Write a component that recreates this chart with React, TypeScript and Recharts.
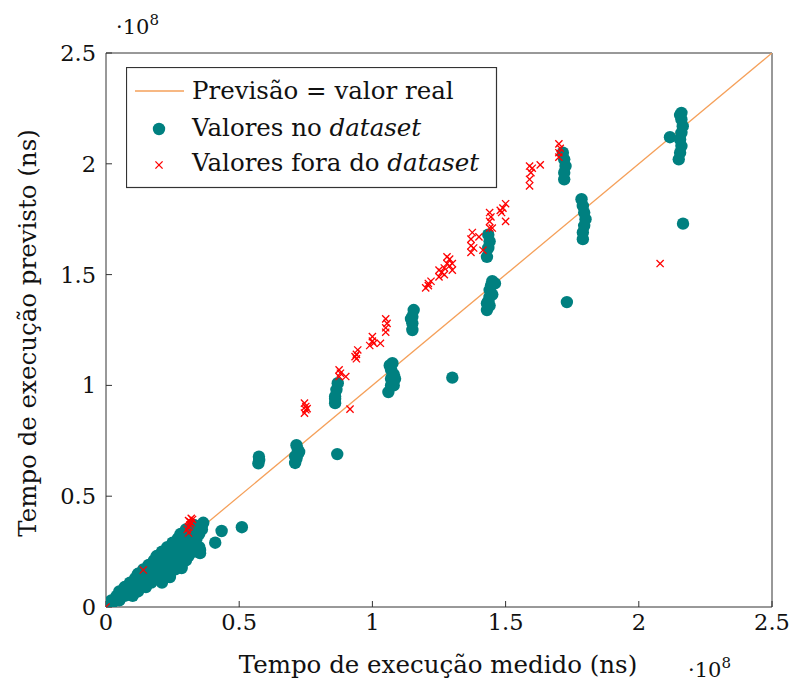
import React from 'react';
import { ScatterChart, Scatter, XAxis, YAxis, Legend } from 'recharts';

// Values are in units of 10^8 ns.
const AXIS_TICKS = [0, 0.5, 1, 1.5, 2, 2.5];
const AXIS_DOMAIN: [number, number] = [0, 2.5];

// Reference line: prediction equals real value.
const IDEAL_X = [0, 2.5];
const IDEAL_Y = [0, 2.5];

// Samples inside the dataset.
const IN_X = [
  0.0, 0.02, 0.02, 0.05, 0.04, 0.07, 0.1, 0.05, 0.09, 0.12, 0.07, 0.11, 0.15,
  0.09, 0.13, 0.17, 0.21, 0.11, 0.15, 0.19, 0.22, 0.12, 0.16, 0.2, 0.24,
  0.14, 0.18, 0.22, 0.26, 0.16, 0.2, 0.24, 0.28, 0.18, 0.22, 0.26, 0.3,
  0.19, 0.23, 0.27, 0.31, 0.21, 0.25, 0.29, 0.33, 0.23, 0.27, 0.31, 0.35,
  0.25, 0.29, 0.33, 0.27, 0.3, 0.34, 0.28, 0.32, 0.35, 0.3, 0.33, 0.36, 0.33, 0.36,
  0.215, 0.24, 0.284, 0.31, 0.353, 0.353, 0.41, 0.434, 0.51, 0.365,
  0.572, 0.575, 0.574,
  0.71, 0.715, 0.72, 0.72, 0.715, 0.725, 0.71,
  0.868,
  0.86, 0.86, 0.865, 0.87, 0.86,
  1.06, 1.07, 1.07, 1.08, 1.07, 1.065, 1.075, 1.08, 1.085,
  1.3,
  1.15, 1.15, 1.15, 1.155, 1.145,
  1.43, 1.43, 1.44, 1.44, 1.445, 1.45, 1.46, 1.435, 1.45, 1.44,
  1.43, 1.435, 1.44, 1.435,
  1.73,
  1.72, 1.72, 1.725, 1.72, 1.715,
  1.79, 1.79, 1.795, 1.8, 1.795, 1.79, 1.785,
  2.15, 2.155, 2.16, 2.155, 2.16, 2.165, 2.16, 2.155, 2.16, 2.117,
  2.166,
];
const IN_Y = [
  0.01, 0.01, 0.03, 0.03, 0.05, 0.05, 0.05, 0.07, 0.07, 0.07, 0.09, 0.09, 0.09,
  0.11, 0.11, 0.11, 0.11, 0.13, 0.13, 0.13, 0.13, 0.15, 0.15, 0.15, 0.15,
  0.17, 0.17, 0.17, 0.17, 0.19, 0.19, 0.19, 0.19, 0.21, 0.21, 0.21, 0.21,
  0.23, 0.23, 0.23, 0.23, 0.25, 0.25, 0.25, 0.25, 0.27, 0.27, 0.27, 0.27,
  0.29, 0.29, 0.29, 0.31, 0.31, 0.31, 0.33, 0.33, 0.33, 0.35, 0.35, 0.35, 0.37, 0.37,
  0.144, 0.135, 0.176, 0.24, 0.243, 0.257, 0.29, 0.343, 0.36, 0.38,
  0.648, 0.663, 0.678,
  0.65, 0.67, 0.69, 0.71, 0.73, 0.7, 0.68,
  0.69,
  0.92, 0.95, 0.98, 1.01, 0.94,
  0.97, 1.0, 1.03, 1.05, 1.07, 1.09, 1.1, 1.0, 1.03,
  1.035,
  1.25, 1.28, 1.31, 1.34, 1.3,
  1.34, 1.37, 1.4, 1.43, 1.45, 1.47, 1.46, 1.38, 1.41, 1.36,
  1.58, 1.62, 1.65, 1.68,
  1.376,
  1.93, 1.96, 1.99, 2.02, 2.05,
  1.66, 1.69, 1.72, 1.75, 1.78, 1.81, 1.84,
  2.02, 2.05, 2.08, 2.11, 2.14, 2.17, 2.2, 2.22, 2.23, 2.12,
  1.73,
];

// Samples outside the dataset.
const OUT_X = [
  0.0, 0.14, 0.31, 0.305, 0.31, 0.315, 0.32, 0.31, 0.32, 0.325, 0.315,
  0.745, 0.75, 0.75, 0.745, 0.755,
  0.916,
  0.875, 0.88, 0.875, 0.9,
  0.94, 0.94, 0.945, 0.935,
  0.99, 1.0, 1.0, 1.005, 1.03,
  1.05, 1.05, 1.055, 1.05,
  1.2, 1.21, 1.22, 1.21,
  1.25, 1.26, 1.27, 1.28, 1.29, 1.3, 1.27, 1.29, 1.25, 1.28, 1.3,
  1.37, 1.37, 1.37, 1.375, 1.4, 1.415, 1.38,
  1.44, 1.44, 1.445, 1.44, 1.45,
  1.485, 1.49, 1.5, 1.5, 1.48,
  1.59, 1.59, 1.595, 1.59, 1.63, 1.6,
  1.7, 1.7, 1.705, 1.7,
  2.08,
];
const OUT_Y = [
  0.0, 0.167, 0.334, 0.35, 0.36, 0.37, 0.38, 0.39, 0.4, 0.395, 0.385,
  0.875, 0.89, 0.905, 0.92, 0.895,
  0.893,
  1.04, 1.055, 1.07, 1.04,
  1.12, 1.14, 1.16, 1.13,
  1.18, 1.2, 1.22, 1.19, 1.19,
  1.24, 1.26, 1.28, 1.3,
  1.44, 1.46, 1.47, 1.45,
  1.49, 1.51, 1.53, 1.55, 1.57, 1.52, 1.5, 1.54, 1.52, 1.58, 1.55,
  1.6, 1.63, 1.66, 1.69, 1.67, 1.61, 1.62,
  1.71, 1.74, 1.76, 1.78, 1.71,
  1.78, 1.8, 1.82, 1.74, 1.79,
  1.9, 1.93, 1.96, 1.99, 1.995, 1.98,
  2.03, 2.05, 2.07, 2.09,
  1.55,
];

const toPoints = (xs: number[], ys: number[]) => xs.map((x, i) => ({ x, y: ys[i] }));
const idealData = toPoints(IDEAL_X, IDEAL_Y);
const inData = toPoints(IN_X, IN_Y);
const outData = toPoints(OUT_X, OUT_Y);

const FONT = '"DejaVu Serif", serif';
const TEAL = '#008080';
const RED = '#ff0000';
const ORANGE = '#f5a05a';
const AXIS = '#333333';
const INK = '#111111';
const DOT_R = 6.2;

const Dot = (props: any) => {
  const { cx, cy } = props;
  if (cx == null || cy == null) return null;
  return <circle cx={cx} cy={cy} r={DOT_R} fill={TEAL} />;
};

const Cross = (props: any) => {
  const { cx, cy } = props;
  if (cx == null || cy == null) return null;
  const s = 3.6;
  return (
    <g stroke={RED} strokeWidth={1.3}>
      <line x1={cx - s} y1={cy - s} x2={cx + s} y2={cy + s} />
      <line x1={cx - s} y1={cy + s} x2={cx + s} y2={cy - s} />
    </g>
  );
};

const NoShape = () => null;

const LEGEND_SIZE = 24.5;

const LegendBox = () => (
  <svg width={372} height={122} style={{ display: 'block' }}>
    <rect x={0.5} y={0.5} width={370} height={120} fill="#fff" stroke={AXIS} strokeWidth={1.2} />
    <line x1={9} y1={24} x2={58} y2={24} stroke={ORANGE} strokeWidth={1.3} />
    <text x={66} y={32} style={{ fontFamily: FONT }} fontSize={LEGEND_SIZE} fill={INK}>
      Previsão = valor real
    </text>
    <circle cx={33} cy={62} r={DOT_R} fill={TEAL} />
    <text x={66} y={68.5} style={{ fontFamily: FONT }} fontSize={LEGEND_SIZE} fill={INK}>
      Valores no <tspan fontStyle="italic">dataset</tspan>
    </text>
    <g stroke={RED} strokeWidth={1.3}>
      <line x1={29.4} y1={94.4} x2={36.6} y2={101.6} />
      <line x1={29.4} y1={101.6} x2={36.6} y2={94.4} />
    </g>
    <text x={66} y={103.5} style={{ fontFamily: FONT }} fontSize={LEGEND_SIZE} fill={INK}>
      Valores fora do <tspan fontStyle="italic">dataset</tspan>
    </text>
  </svg>
);

const Exponent = ({ x, y }: { x: number; y: number }) => (
  <text x={x} y={y} style={{ fontFamily: FONT }} fontSize={21} fill={INK}>
    ·10
    <tspan dy={-9} fontSize={15}>8</tspan>
  </text>
);

const tickStyle = { fontFamily: FONT, fontSize: 22.5, fill: INK };

export default function App() {
  return (
    <div style={{ position: 'absolute', left: 0, top: 0, width: 792, height: 687, background: '#fff' }}>
      <ScatterChart width={792} height={687} margin={{ top: 0, right: 0, bottom: 0, left: 0 }}>
        <XAxis
          xAxisId="bottom"
          dataKey="x"
          type="number"
          domain={AXIS_DOMAIN}
          ticks={AXIS_TICKS}
          allowDataOverflow
          height={80}
          orientation="bottom"
          stroke={AXIS}
          tickSize={-6}
          tickMargin={13}
          tick={tickStyle}
          tickFormatter={(v: number) => String(v)}
          label={{
            content: (p: any) => {
              const vb = p.viewBox || {};
              const top = vb.y ?? 607;
              return (
                <g>
                  <text x={438} y={top + 66} textAnchor="middle" style={{ fontFamily: FONT }} fontSize={24.5} fill={INK}>
                    Tempo de execução medido (ns)
                  </text>
                  <Exponent x={688} y={top + 70} />
                </g>
              );
            },
          }}
        />
        <XAxis
          xAxisId="top"
          dataKey="x"
          type="number"
          domain={AXIS_DOMAIN}
          ticks={AXIS_TICKS}
          allowDataOverflow
          height={53}
          orientation="top"
          stroke={AXIS}
          tickSize={-6}
          tick={false}
          label={{ content: () => <Exponent x={116} y={34} /> }}
        />
        <YAxis
          yAxisId="left"
          dataKey="y"
          type="number"
          domain={AXIS_DOMAIN}
          ticks={AXIS_TICKS}
          allowDataOverflow
          width={106}
          orientation="left"
          stroke={AXIS}
          tickSize={-6}
          tickMargin={16}
          tick={tickStyle}
          tickFormatter={(v: number) => String(v)}
          label={{
            content: () => (
              <text
                x={0}
                y={0}
                transform="translate(36 333) rotate(-90)"
                textAnchor="middle"
                style={{ fontFamily: FONT }}
                fontSize={24.5}
                fill={INK}
              >
                Tempo de execução previsto (ns)
              </text>
            ),
          }}
        />
        <YAxis
          yAxisId="right"
          dataKey="y"
          type="number"
          domain={AXIS_DOMAIN}
          ticks={AXIS_TICKS}
          allowDataOverflow
          width={20}
          orientation="right"
          stroke={AXIS}
          tickSize={-6}
          tick={false}
        />
        <Scatter
          name="Previsão = valor real"
          data={idealData}
          xAxisId="top"
          yAxisId="right"
          line={{ stroke: ORANGE, strokeWidth: 1.3 }}
          shape={NoShape}
          isAnimationActive={false}
        />
        <Scatter
          name="Valores no dataset"
          data={inData}
          xAxisId="bottom"
          yAxisId="left"
          shape={Dot}
          isAnimationActive={false}
        />
        <Scatter
          name="Valores fora do dataset"
          data={outData}
          xAxisId="bottom"
          yAxisId="left"
          shape={Cross}
          isAnimationActive={false}
        />
        <Legend
          layout="horizontal"
          verticalAlign="middle"
          align="center"
          content={() => <LegendBox />}
          wrapperStyle={{ position: 'absolute', left: 126, top: 67, width: 372, height: 122 }}
        />
      </ScatterChart>
    </div>
  );
}
